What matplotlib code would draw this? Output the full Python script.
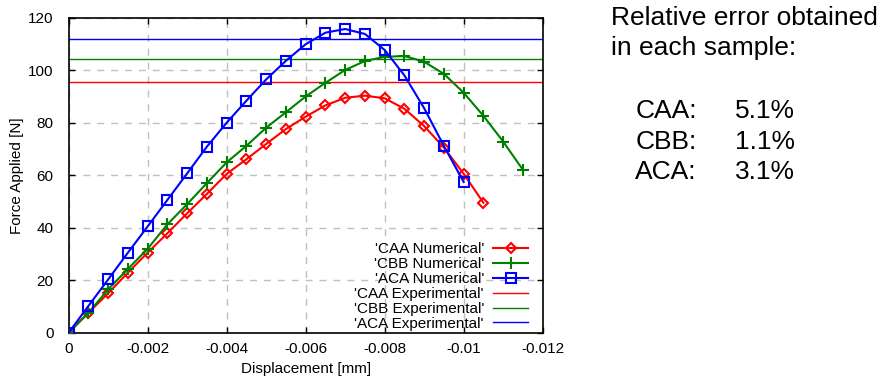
import matplotlib
matplotlib.use("Agg")
import matplotlib.pyplot as plt
import numpy as np

plt.rcParams['font.family'] = ['Liberation Sans', 'DejaVu Sans']

# displacement step between numerical points [mm]
step = -0.0005

caa_force = [0, 7.6, 15.0, 22.9, 30.5, 37.9, 45.5, 52.9, 60.5, 66.1, 71.9,
             77.6, 82.3, 86.6, 89.5, 90.3, 89.3, 85.3, 78.7, 70.5, 60.5, 49.5]
cbb_force = [0, 7.6, 16.5, 24.3, 32.0, 41.3, 49.0, 57.0, 64.9, 71.2, 78.1,
             84.0, 90.0, 95.2, 100.1, 103.5, 105.1, 105.4, 103.2, 98.6, 91.4,
             82.6, 72.8, 62.0]
aca_force = [0, 10.2, 20.3, 30.5, 40.5, 50.6, 60.7, 70.9, 80.0, 88.4, 96.5,
             103.6, 109.9, 114.3, 115.7, 113.8, 107.7, 98.0, 85.5, 71.1, 57.4]

caa_exp = 95.5
cbb_exp = 104.3
aca_exp = 112.0

heading = ['Relative error obtained', 'in each sample:']
samples = ['CAA:', 'CBB:', 'ACA:']
errors = ['5.1%', '1.1%', '3.1%']

caa_disp = np.arange(len(caa_force)) * step
cbb_disp = np.arange(len(cbb_force)) * step
aca_disp = np.arange(len(aca_force)) * step

fig = plt.figure(figsize=(8.83, 3.8), dpi=100)
ax = fig.add_axes([0.0778, 0.1245, 0.5368, 0.8289])

ax.plot(caa_disp, caa_force, color='red', lw=1.5, marker='D', ms=5.2,
        mfc='none', mew=1.5, label="'CAA Numerical'", zorder=3)
ax.plot(cbb_disp, cbb_force, color='green', lw=1.5, marker='+', ms=9,
        mew=1.5, label="'CBB Numerical'", zorder=3)
ax.plot(aca_disp, aca_force, color='blue', lw=1.5, marker='s', ms=7.3,
        mfc='none', mew=1.5, label="'ACA Numerical'", zorder=3)
ax.axhline(caa_exp, color='red', lw=1.0, label="'CAA Experimental'")
ax.axhline(cbb_exp, color='green', lw=1.0, label="'CBB Experimental'")
ax.axhline(aca_exp, color='blue', lw=1.0, label="'ACA Experimental'")

ax.set_xlim(0, -0.012)
ax.set_ylim(0, 120)
ax.set_xticks(np.arange(0, -0.0121, -0.002))
ax.set_xticklabels(['0', '-0.002', '-0.004', '-0.006', '-0.008', '-0.01', '-0.012'])
ax.set_yticks(np.arange(0, 121, 20))
ax.tick_params(direction='in', length=4, width=1, top=True, right=True,
               labelsize=11)
ax.tick_params(axis='x', pad=7)
ax.tick_params(axis='y', pad=11)
ax.grid(True, color='#c0c0c0', lw=1, linestyle=(0, (5, 5)))
for s in ax.spines.values():
    s.set_linewidth(1.2)

ax.set_xlabel('Displacement [mm]', fontsize=11, labelpad=4)
ax.set_ylabel('Force Applied [N]', fontsize=11, labelpad=3)

ax.legend(loc='lower right', bbox_to_anchor=(0.9696, 0.006), frameon=False,
          markerfirst=False, fontsize=11, handlelength=2.3, handletextpad=0.6,
          labelspacing=0.06, borderpad=0, borderaxespad=0)

# side note with the relative errors
for i, line in enumerate(heading):
    fig.text(0.6925, 1 - (25 + i * 30) / 380, line,
             fontsize=19, va='baseline', ha='left')
for i, (name, val) in enumerate(zip(samples, errors)):
    y = 1 - (118 + i * 30.5) / 380
    fig.text(0.7195, y, name, fontsize=19, va='baseline', ha='left')
    fig.text(0.9005, y, val, fontsize=19, va='baseline', ha='right')

fig.savefig('out.png', dpi=100)
